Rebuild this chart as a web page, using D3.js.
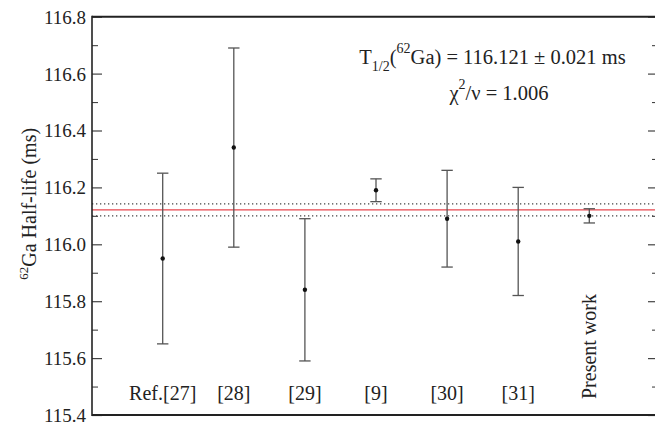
<!DOCTYPE html>
<html>
<head>
<meta charset="utf-8">
<script src="https://cdn.jsdelivr.net/npm/d3@7"></script>
<style>
  html, body { margin: 0; padding: 0; background: #fff; }
  svg { display: block; }
  svg text { font-family: "Liberation Serif", Tinos, "Times New Roman", Times, "Nimbus Roman", "DejaVu Serif", serif !important; fill: #222; }
</style>
</head>
<body>
<svg id="chart" width="655" height="424"></svg>
<script>
// ---- data ----
const categories = ["Ref.[27]", "[28]", "[29]", "[9]", "[30]", "[31]", "Present work"];
const halfLives  = [115.95, 116.34, 115.84, 116.19, 116.09, 116.01, 116.10];
const errors     = [0.30, 0.35, 0.25, 0.04, 0.17, 0.19, 0.025];
const weightedMean = 116.121;
const meanError    = 0.021;
const yTicks = [115.4, 115.6, 115.8, 116.0, 116.2, 116.4, 116.6, 116.8];
const yMinorTicks = [115.5, 115.7, 115.9, 116.1, 116.3, 116.5, 116.7];

// ---- layout ----
const svg = d3.select("#chart");
const L = 92, R = 658, T = 16.7, B = 415;

const x = d3.scalePoint().domain(categories).range([162.7, 589.3]);
const y = d3.scaleLinear().domain([115.4, 116.8]).range([B, T]);

// weighted mean lines
const g = svg.append("g");
[weightedMean + meanError, weightedMean - meanError].forEach(v => {
  g.append("line")
    .attr("x1", L).attr("x2", R)
    .attr("y1", y(v)).attr("y2", y(v))
    .attr("stroke", "#444").attr("stroke-width", 1.3)
    .attr("stroke-dasharray", "1.3,2.7");
});
g.append("line")
  .attr("x1", L).attr("x2", R)
  .attr("y1", y(weightedMean)).attr("y2", y(weightedMean))
  .attr("stroke", "#e8474f").attr("stroke-width", 1.4);

// error bars
const pts = categories.map((c, i) => ({ c, v: halfLives[i], e: errors[i] }));
const eb = svg.append("g");
const cap = 5.7;
pts.forEach(p => {
  const cx = x(p.c);
  eb.append("line").attr("x1", cx).attr("x2", cx)
    .attr("y1", y(p.v + p.e)).attr("y2", y(p.v - p.e))
    .attr("stroke", "#555").attr("stroke-width", 1.3);
  [p.v + p.e, p.v - p.e].forEach(v => {
    eb.append("line").attr("x1", cx - cap).attr("x2", cx + cap)
      .attr("y1", y(v)).attr("y2", y(v))
      .attr("stroke", "#555").attr("stroke-width", 1.3);
  });
  eb.append("circle").attr("cx", cx).attr("cy", y(p.v)).attr("r", 2.2).attr("fill", "#111");
});

// axes
const fontTick = "19px";
const leftAxis = svg.append("g").attr("transform", `translate(${L},0)`)
  .call(d3.axisLeft(y).tickValues(yTicks).tickFormat(d3.format(".1f")).tickSize(-10).tickPadding(6));
leftAxis.attr("font-family", null);
leftAxis.selectAll("text").style("font-size", fontTick).attr("fill", "#222").attr("dy", "0.34em");
leftAxis.select(".domain").remove();
leftAxis.selectAll(".tick line").attr("stroke", "#444").attr("stroke-width", 1.2);

const leftMinor = svg.append("g").attr("transform", `translate(${L},0)`)
  .call(d3.axisLeft(y).tickValues(yMinorTicks).tickFormat("").tickSize(-6));
leftMinor.select(".domain").remove();
leftMinor.selectAll(".tick line").attr("stroke", "#444").attr("stroke-width", 1.1);

const rightAxis = svg.append("g").attr("transform", `translate(${R},0)`)
  .call(d3.axisRight(y).tickValues(yTicks).tickFormat("").tickSize(-10));
rightAxis.select(".domain").remove();
rightAxis.selectAll(".tick line").attr("stroke", "#444").attr("stroke-width", 1.2);
const rightMinor = svg.append("g").attr("transform", `translate(${R},0)`)
  .call(d3.axisRight(y).tickValues(yMinorTicks).tickFormat("").tickSize(-6));
rightMinor.select(".domain").remove();
rightMinor.selectAll(".tick line").attr("stroke", "#444").attr("stroke-width", 1.1);

// frame
svg.append("line").attr("x1", L).attr("x2", R + 1).attr("y1", T).attr("y2", T)
  .attr("stroke", "#222").attr("stroke-width", 2);
svg.append("line").attr("x1", L).attr("x2", R + 1).attr("y1", B).attr("y2", B)
  .attr("stroke", "#222").attr("stroke-width", 2);
svg.append("line").attr("x1", L).attr("x2", L).attr("y1", T - 1).attr("y2", B + 1)
  .attr("stroke", "#222").attr("stroke-width", 1.6);
svg.append("line").attr("x1", R).attr("x2", R).attr("y1", T - 1).attr("y2", B + 1)
  .attr("stroke", "#222").attr("stroke-width", 1.6);

// category labels
const catG = svg.append("g");
categories.forEach(c => {
  if (c === "Present work") {
    catG.append("text")
      .attr("transform", `translate(${x(c) + 7},399) rotate(-90)`)
      .attr("text-anchor", "start")
      .style("font-size", "20px")
      .text(c);
  } else {
    catG.append("text")
      .attr("x", x(c)).attr("y", 400)
      .attr("text-anchor", "middle")
      .style("font-size", "20px")
      .text(c);
  }
});

// y-axis title
const yt = svg.append("text")
  .attr("transform", `translate(36,${(T + B) / 2 - 12}) rotate(-90)`)
  .attr("text-anchor", "middle")
  .style("font-size", "20px");
yt.append("tspan").attr("dy", "-8").style("font-size", "13px").text("62");
yt.append("tspan").attr("dy", "8").text("Ga Half-life (ms)");

// annotation
const a1 = svg.append("text").attr("x", 492.5).attr("y", 64).attr("text-anchor", "middle").style("font-size", "20.5px");
a1.append("tspan").text("T");
a1.append("tspan").attr("dy", "7").style("font-size", "14px").text("1/2");
a1.append("tspan").attr("dy", "-7").text("(");
a1.append("tspan").attr("dy", "-11").style("font-size", "14px").text("62");
a1.append("tspan").attr("dy", "11").text("Ga) = 116.121 ± 0.021 ms");

const a2 = svg.append("text").attr("x", 499).attr("y", 100).attr("text-anchor", "middle").style("font-size", "20.5px");
a2.append("tspan").text("χ");
a2.append("tspan").attr("dy", "-11").style("font-size", "14px").text("2");
a2.append("tspan").attr("dy", "11").text("/ν = 1.006");
</script>
</body>
</html>
